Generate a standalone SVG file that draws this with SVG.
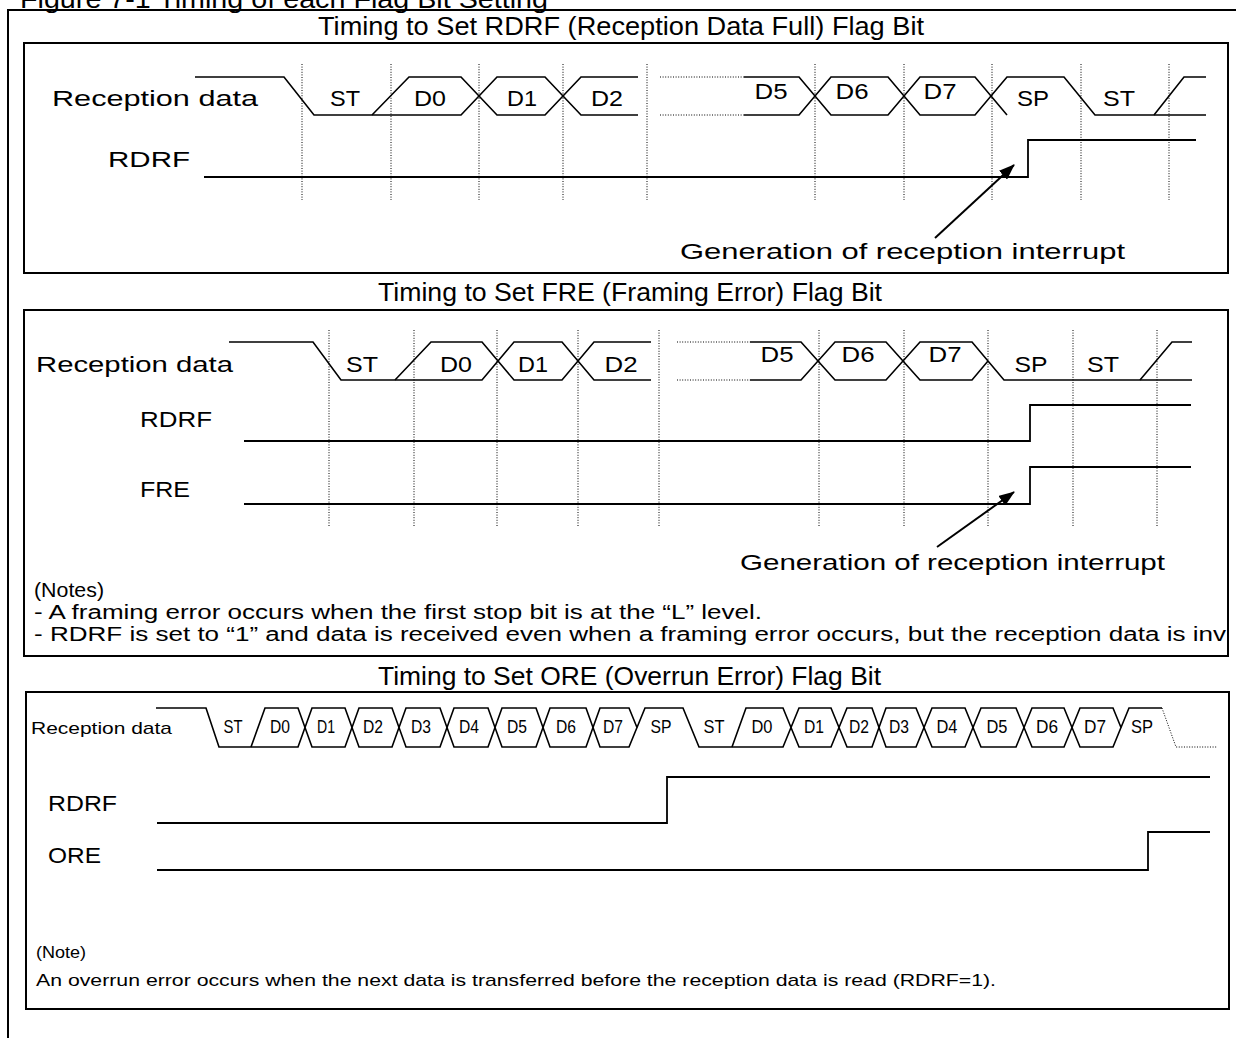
<svg xmlns="http://www.w3.org/2000/svg" width="1236" height="1038" viewBox="0 0 1236 1038">
<style>
.t{font-family:"Liberation Sans",Arial,Helvetica,sans-serif;fill:#000}
.ttl{font-size:26px}
.lbl{font-size:22px;text-anchor:middle}
.sl{font-size:18px;text-anchor:middle}
.note{font-size:20px}
.sm{font-size:17px}
.box{fill:none;stroke:#000;stroke-width:2}
.w{fill:none;stroke:#000;stroke-width:1.6;stroke-linejoin:miter}
.sig{fill:none;stroke:#000;stroke-width:1.8}
.dot{fill:none;stroke:#000;stroke-width:1;stroke-dasharray:1 1.6}
.arr{fill:none;stroke:#000;stroke-width:2}
</style>
<defs>
<marker id="ah" markerUnits="userSpaceOnUse" markerWidth="16" markerHeight="12" refX="15" refY="6" orient="auto">
<path d="M0,0 L16,6 L0,12 z" fill="#000"/>
</marker>
<clipPath id="clip2"><rect x="24" y="310" width="1204" height="346"/></clipPath>
</defs>
<rect width="1236" height="1038" fill="#fff"/>

<g id="frame">
<path class="box" d="M8,1038 V10 H1236"/>
<text class="t ttl" x="20" y="8" textLength="528" lengthAdjust="spacingAndGlyphs">Figure 7-1 Timing of each Flag Bit Setting</text>
</g>

<!-- Panel 1 -->
<g id="panel-rdrf">
<text class="t ttl" x="318" y="35" textLength="606" lengthAdjust="spacingAndGlyphs">Timing to Set RDRF (Reception Data Full) Flag Bit</text>
<rect class="box" x="24" y="43" width="1204" height="230"/>
<g id="p1-grid">
<path class="dot" d="M302,64V200 M391,64V200 M479,64V200 M563,64V200 M647,64V200 M815,64V200 M904,64V200 M992,64V200 M1081,64V200 M1169,64V200"/>
</g>
<g id="p1-rxdata">
<text class="t" font-size="22" x="52" y="106" textLength="206" lengthAdjust="spacingAndGlyphs">Reception data</text>
<path class="w" d="M195,77 H284 L314,115 H461 L497,77 H545 L581,115 H638"/>
<path class="w" d="M372,115 L409,77 H461 L497,115 H545 L581,77 H638"/>
<path class="dot" d="M660,77 H744 M660,115 H744"/>
<path class="w" d="M744,77 H799 L831,115 H888 L920,77 H975 L1007,115"/>
<path class="w" d="M744,115 H799 L831,77 H888 L920,115 H975 L1007,77 H1064 L1095,115 H1206"/>
<path class="w" d="M1154,115 L1184,77 H1206"/>
<text class="t lbl" x="345" y="106" textLength="30" lengthAdjust="spacingAndGlyphs">ST</text>
<text class="t lbl" x="430" y="106" textLength="32" lengthAdjust="spacingAndGlyphs">D0</text>
<text class="t lbl" x="522" y="106" textLength="30" lengthAdjust="spacingAndGlyphs">D1</text>
<text class="t lbl" x="607" y="106" textLength="32" lengthAdjust="spacingAndGlyphs">D2</text>
<text class="t lbl" x="771" y="99" textLength="33" lengthAdjust="spacingAndGlyphs">D5</text>
<text class="t lbl" x="852" y="99" textLength="33" lengthAdjust="spacingAndGlyphs">D6</text>
<text class="t lbl" x="940" y="99" textLength="33" lengthAdjust="spacingAndGlyphs">D7</text>
<text class="t lbl" x="1033" y="106" textLength="32" lengthAdjust="spacingAndGlyphs">SP</text>
<text class="t lbl" x="1119" y="106" textLength="32" lengthAdjust="spacingAndGlyphs">ST</text>
</g>
<g id="p1-rdrf">
<text class="t" font-size="22" x="108" y="167" textLength="82" lengthAdjust="spacingAndGlyphs">RDRF</text>
<path class="sig" d="M204,177 H1028 V140 H1196"/>
</g>
<g id="p1-note">
<text class="t" font-size="22" x="680" y="259" textLength="445" lengthAdjust="spacingAndGlyphs">Generation of reception interrupt</text>
</g>
</g>

<!-- Panel 2 -->
<g id="panel-fre">
<text class="t ttl" x="378" y="301" textLength="504" lengthAdjust="spacingAndGlyphs">Timing to Set FRE (Framing Error) Flag Bit</text>
<rect class="box" x="24" y="310" width="1204" height="346"/>
<g id="p2-grid">
<path class="dot" d="M329,330V527 M414,330V527 M497,330V527 M578,330V527 M659,330V527 M819,330V527 M904,330V527 M988,330V527 M1073,330V527 M1157,330V527"/>
</g>
<g id="p2-rxdata">
<text class="t" font-size="22" x="36" y="372" textLength="197" lengthAdjust="spacingAndGlyphs">Reception data</text>
<path class="w" d="M229,342 H313 L341,380 H482 L514,342 H562 L594,380 H651"/>
<path class="w" d="M395,380 L431,342 H482 L514,380 H562 L594,342 H651"/>
<path class="dot" d="M677,342 H750 M677,380 H750"/>
<path class="w" d="M750,342 H801 L835,380 H886 L920,342 H972 L1004,380 H1192"/>
<path class="w" d="M750,380 H801 L835,342 H886 L920,380 H972 L988,361"/>
<path class="w" d="M1140,380 L1172,342 H1192"/>
<text class="t lbl" x="362" y="372" textLength="32" lengthAdjust="spacingAndGlyphs">ST</text>
<text class="t lbl" x="456" y="372" textLength="32" lengthAdjust="spacingAndGlyphs">D0</text>
<text class="t lbl" x="533" y="372" textLength="30" lengthAdjust="spacingAndGlyphs">D1</text>
<text class="t lbl" x="621" y="372" textLength="33" lengthAdjust="spacingAndGlyphs">D2</text>
<text class="t lbl" x="777" y="362" textLength="33" lengthAdjust="spacingAndGlyphs">D5</text>
<text class="t lbl" x="858" y="362" textLength="33" lengthAdjust="spacingAndGlyphs">D6</text>
<text class="t lbl" x="945" y="362" textLength="33" lengthAdjust="spacingAndGlyphs">D7</text>
<text class="t lbl" x="1031" y="372" textLength="33" lengthAdjust="spacingAndGlyphs">SP</text>
<text class="t lbl" x="1103" y="372" textLength="32" lengthAdjust="spacingAndGlyphs">ST</text>
</g>
<g id="p2-rdrf">
<text class="t" font-size="22" x="140" y="427" textLength="72" lengthAdjust="spacingAndGlyphs">RDRF</text>
<path class="sig" d="M244,441 H1030 V405 H1191"/>
</g>
<g id="p2-fre">
<text class="t" font-size="22" x="140" y="497" textLength="50" lengthAdjust="spacingAndGlyphs">FRE</text>
<path class="sig" d="M244,504 H1030 V467 H1191"/>
</g>
<g id="p2-notes" clip-path="url(#clip2)">
<text class="t" font-size="22" x="740" y="570" textLength="425" lengthAdjust="spacingAndGlyphs">Generation of reception interrupt</text>
<text class="t note" x="34" y="597" textLength="70" lengthAdjust="spacingAndGlyphs">(Notes)</text>
<text class="t note" x="34" y="619" textLength="728" lengthAdjust="spacingAndGlyphs">- A framing error occurs when the first stop bit is at the “L” level.</text>
<text class="t note" x="34" y="641" textLength="1192" lengthAdjust="spacingAndGlyphs">- RDRF is set to “1” and data is received even when a framing error occurs, but the reception data is inv</text>
</g>
</g>

<!-- Panel 3 -->
<g id="panel-ore">
<text class="t ttl" x="378" y="685" textLength="503" lengthAdjust="spacingAndGlyphs">Timing to Set ORE (Overrun Error) Flag Bit</text>
<rect class="box" x="26" y="692" width="1203" height="317"/>
<g id="p3-rxdata">
<text class="t sm" x="31" y="734" textLength="141" lengthAdjust="spacingAndGlyphs">Reception data</text>
<path class="w" d="M156,708 H206 L219,747 H298 L312,708 H345 L359,747 H392 L406,708 H440 L454,747 H488 L502,708 H536 L550,747 H586 L600,708 H629 L637,727.5"/>
<path class="w" d="M251,747 L265,708 H298 L312,747 H345 L359,708 H392 L406,747 H440 L454,708 H488 L502,747 H536 L550,708 H586 L600,747 H629 L645,708 H683 L699,747 H783 L799,708 H831 L847,747 H872 L886,708 H916 L932,747 H965 L981,708 H1016 L1032,747 H1064 L1080,708 H1113 L1121,727.5"/>
<path class="w" d="M732,747 L746,708 H783 L799,747 H831 L847,708 H872 L886,747 H916 L932,708 H965 L981,747 H1016 L1032,708 H1064 L1080,747 H1113 L1129,708 H1162"/>
<path class="dot" d="M1162,708 L1176,747 H1217"/>
<text class="t sl" x="233" y="733" textLength="19" lengthAdjust="spacingAndGlyphs">ST</text>
<text class="t sl" x="280" y="733" textLength="20" lengthAdjust="spacingAndGlyphs">D0</text>
<text class="t sl" x="326" y="733" textLength="18" lengthAdjust="spacingAndGlyphs">D1</text>
<text class="t sl" x="373" y="733" textLength="20" lengthAdjust="spacingAndGlyphs">D2</text>
<text class="t sl" x="421" y="733" textLength="20" lengthAdjust="spacingAndGlyphs">D3</text>
<text class="t sl" x="469" y="733" textLength="20" lengthAdjust="spacingAndGlyphs">D4</text>
<text class="t sl" x="517" y="733" textLength="20" lengthAdjust="spacingAndGlyphs">D5</text>
<text class="t sl" x="566" y="733" textLength="20" lengthAdjust="spacingAndGlyphs">D6</text>
<text class="t sl" x="613" y="733" textLength="20" lengthAdjust="spacingAndGlyphs">D7</text>
<text class="t sl" x="661" y="733" textLength="21" lengthAdjust="spacingAndGlyphs">SP</text>
<text class="t sl" x="714" y="733" textLength="21" lengthAdjust="spacingAndGlyphs">ST</text>
<text class="t sl" x="762" y="733" textLength="21" lengthAdjust="spacingAndGlyphs">D0</text>
<text class="t sl" x="814" y="733" textLength="20" lengthAdjust="spacingAndGlyphs">D1</text>
<text class="t sl" x="859" y="733" textLength="20" lengthAdjust="spacingAndGlyphs">D2</text>
<text class="t sl" x="899" y="733" textLength="20" lengthAdjust="spacingAndGlyphs">D3</text>
<text class="t sl" x="947" y="733" textLength="21" lengthAdjust="spacingAndGlyphs">D4</text>
<text class="t sl" x="997" y="733" textLength="21" lengthAdjust="spacingAndGlyphs">D5</text>
<text class="t sl" x="1047" y="733" textLength="22" lengthAdjust="spacingAndGlyphs">D6</text>
<text class="t sl" x="1095" y="733" textLength="22" lengthAdjust="spacingAndGlyphs">D7</text>
<text class="t sl" x="1142" y="733" textLength="22" lengthAdjust="spacingAndGlyphs">SP</text>
</g>
<g id="p3-rdrf">
<text class="t" font-size="22" x="48" y="811" textLength="69" lengthAdjust="spacingAndGlyphs">RDRF</text>
<path class="sig" d="M157,823 H667 V777 H1210"/>
</g>
<g id="p3-ore">
<text class="t" font-size="22" x="48" y="863" textLength="53" lengthAdjust="spacingAndGlyphs">ORE</text>
<path class="sig" d="M157,870 H1148 V832 H1210"/>
</g>
<g id="p3-note">
<text class="t sm" x="36" y="958" textLength="50" lengthAdjust="spacingAndGlyphs">(Note)</text>
<text class="t sm" x="36" y="986" textLength="960" lengthAdjust="spacingAndGlyphs">An overrun error occurs when the next data is transferred before the reception data is read (RDRF=1).</text>
</g>
</g>

<g id="connectors">
<line class="arr" x1="935" y1="238" x2="1014" y2="165" marker-end="url(#ah)"/>
<line class="arr" x1="937" y1="547" x2="1014" y2="492" marker-end="url(#ah)"/>
</g>
</svg>
